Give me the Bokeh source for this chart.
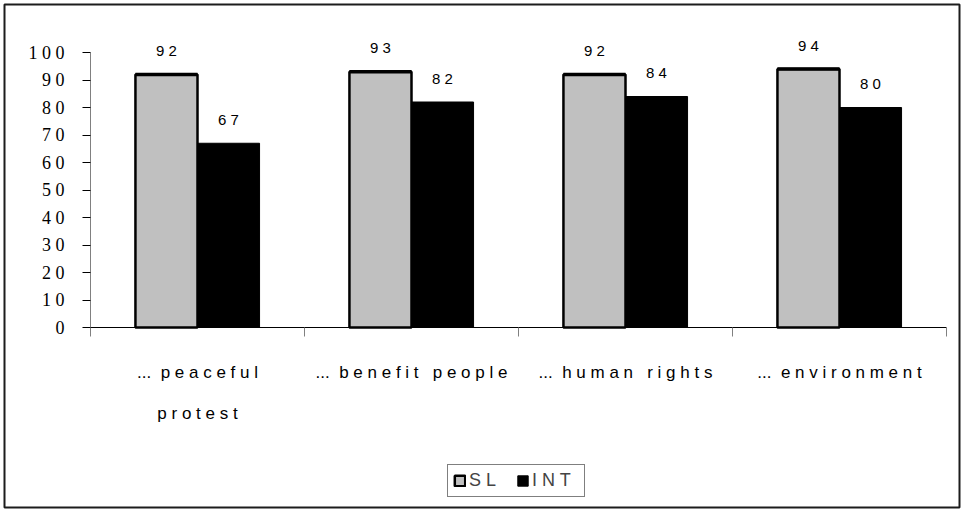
from bokeh.plotting import figure
from bokeh.models import (ColumnDataSource, Range1d, LinearAxis, FixedTicker,
                          Legend, LegendItem)
from bokeh.transform import dodge
from bokeh.core.properties import value
from bokeh.embed import file_html
from bokeh.resources import INLINE

# --- data -------------------------------------------------------------------
categories = ["... peaceful\nprotest", "... benefit people", "... human rights", "... environment"]
sl_values = [92, 93, 92, 94]
int_values = [67, 82, 84, 80]
series_names = ["SL", "INT"]
y_ticks = [0, 10, 20, 30, 40, 50, 60, 70, 80, 90, 100]

NBSP = "\u00a0"


def spread(text):
    """Letter-spaced rendering: letters apart, wider gap between words."""
    lines = []
    for line in text.split("\n"):
        out = ""
        for word in line.split(" "):
            piece = word if word.strip(".") == "" else " ".join(word)
            if out == "":
                out = piece
            elif out.endswith("."):
                out += NBSP + " " + piece
            else:
                out += " " + NBSP + " " + piece
        lines.append(out)
    return "\n".join(lines)


n_cat = len(categories)
centers = [i + 0.5 for i in range(n_cat)]      # middle of each category slot
edges = list(range(n_cat + 1))                  # slot boundaries

# --- layout (pixels) ---------------------------------------------------------
W, H = 963, 509
FRAME_L, FRAME_R, FRAME_T, FRAME_B = 4, 959, 4, 507   # framed panel
AXIS_X0 = 90        # where the value axis sits
SLOT_PX = 214       # width of one category slot
ZERO_Y = 327        # where value 0 sits
UNIT_PX = 2.75      # pixels per value unit

x_start = -(AXIS_X0 - FRAME_L) / SLOT_PX
x_end = x_start + (FRAME_R - FRAME_L) / SLOT_PX
y_start = -(FRAME_B - ZERO_Y) / UNIT_PX
y_end = y_start + (FRAME_B - FRAME_T) / UNIT_PX

source = ColumnDataSource(dict(
    x=centers,
    sl=sl_values,
    int=int_values,
    sl_txt=[" ".join(str(v)) for v in sl_values],
    int_txt=[" ".join(str(v)) for v in int_values],
))

# --- figure -----------------------------------------------------------------
p = figure(width=W, height=H,
           x_range=Range1d(x_start, x_end), y_range=Range1d(y_start, y_end),
           x_axis_location=None,
           output_backend="svg", toolbar_location=None,
           min_border_left=FRAME_L, min_border_right=W - FRAME_R,
           min_border_top=FRAME_T, min_border_bottom=H - FRAME_B)
p.outline_line_color = "#1c1c1c"
p.outline_line_width = 2
p.xgrid.grid_line_color = None
p.ygrid.grid_line_color = None
p.background_fill_color = "white"
p.border_fill_color = "white"

BAR_W = 0.29
r_sl = p.vbar(x=dodge("x", -BAR_W / 2), top="sl", bottom=0,
              width=BAR_W, source=source,
              fill_color="#c0c0c0", line_color="black", line_width=2.5)
r_int = p.vbar(x=dodge("x", BAR_W / 2), top="int", bottom=0,
               width=BAR_W, source=source,
               fill_color="black", line_color="black", line_width=1)
# heavier rim along the top of the SL bars
p.segment(x0=dodge("x", -BAR_W), x1=dodge("x", 0), y0="sl", y1="sl",
          source=source, line_color="black", line_width=3.5)

label_kw = dict(source=source, text_align="center", text_baseline="alphabetic",
                text_font=value("Liberation Sans"), text_font_size="15px",
                text_color="black", y_offset=-24)
p.text(x=dodge("x", -BAR_W / 2), y="sl", text="sl_txt", **label_kw)
p.text(x=dodge("x", BAR_W / 2), y="int", text="int_txt", **label_kw)

# --- value axis ---------------------------------------------------------------
yax = p.yaxis[0]
yax.fixed_location = 0
yax.ticker = FixedTicker(ticks=y_ticks)
yax.bounds = (0, 100)
yax.major_label_overrides = {t: " ".join(str(t)) for t in y_ticks}
yax.major_label_text_font = "Liberation Serif"
yax.major_label_text_font_size = "18px"
yax.major_label_text_color = "black"
yax.major_label_standoff = 18
yax.axis_line_color = "#808080"
yax.major_tick_line_color = "black"
yax.major_tick_out = 8
yax.major_tick_in = 0
yax.minor_tick_line_color = None

# --- category axis: names at slot centres, separators at slot edges ----------
cat_axis = LinearAxis(ticker=FixedTicker(ticks=centers, minor_ticks=edges))
cat_axis.fixed_location = 0
cat_axis.bounds = (0, n_cat)
cat_axis.major_label_overrides = {c: spread(name) for c, name in zip(centers, categories)}
cat_axis.axis_line_color = "black"
cat_axis.major_tick_line_color = None
cat_axis.major_tick_out = 0
cat_axis.major_tick_in = 0
cat_axis.minor_tick_line_color = "#808080"
cat_axis.minor_tick_out = 9
cat_axis.minor_tick_in = 0
cat_axis.major_label_text_font = "Liberation Sans"
cat_axis.major_label_text_font_size = "17px"
cat_axis.major_label_text_color = "black"
cat_axis.major_label_text_line_height = 2.2
cat_axis.major_label_standoff = 26
p.add_layout(cat_axis, "below")

# --- legend -----------------------------------------------------------------
legend = Legend(items=[LegendItem(label=" ".join(series_names[0]), renderers=[r_sl]),
                       LegendItem(label=" ".join(series_names[1]), renderers=[r_int])],
                orientation="horizontal", location=(447 - FRAME_L, FRAME_B - 497))
legend.border_line_color = "black"
legend.border_line_width = 1
legend.background_fill_color = "white"
legend.background_fill_alpha = 1
legend.label_text_font = "Liberation Sans"
legend.label_text_font_size = "18px"
legend.glyph_width = 13
legend.glyph_height = 13
legend.label_standoff = 3
legend.label_width = 47
legend.spacing = 0
legend.padding = 5
legend.margin = 0
p.add_layout(legend, "center")

open("out.html", "w").write(file_html(p, INLINE))
